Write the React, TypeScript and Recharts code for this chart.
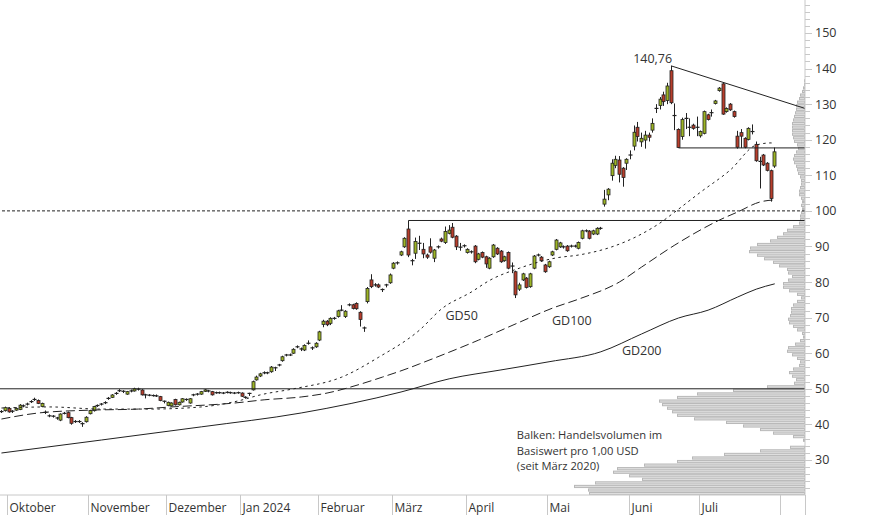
import React from 'react';
import { ComposedChart, Bar, Line, XAxis, YAxis, ReferenceLine, ReferenceDot } from 'recharts';

// Tageskerzen [Eröffnung, Hoch, Tief, Schluss], eine pro Handelstag
const sepCandles = [
  [43.5, 44.0, 43.2, 43.6], [43.85, 45.0, 43.6, 44.7],
];
const octCandles = [
  [44.5, 44.8, 43.3, 43.5], [43.7, 44.0, 43.2, 43.6], [44.0, 44.8, 43.8, 44.5], [44.2, 45.7, 44.0, 45.4],
  [45.1, 45.6, 44.8, 45.2], [45.6, 46.1, 45.3, 45.7], [46.3, 46.8, 46.0, 46.4], [46.9, 47.5, 46.6, 47.0],
  [46.7, 47.0, 45.7, 45.9], [45.0, 46.1, 44.8, 45.9], [43.4, 43.9, 42.9, 43.2], [42.4, 42.8, 42.0, 42.35],
  [42.3, 42.6, 41.9, 42.2], [41.8, 42.1, 41.3, 41.7], [41.2, 43.1, 40.9, 42.9], [43.0, 43.5, 42.8, 43.1],
  [43.3, 43.6, 41.7, 41.9], [41.9, 42.1, 39.9, 40.3], [40.8, 41.2, 40.4, 40.75], [40.7, 41.2, 40.4, 40.8],
  [40.2, 40.6, 39.3, 40.1], [40.75, 42.3, 40.5, 42.0],
];
const novCandles = [
  [43.0, 44.1, 42.8, 43.9], [43.85, 45.2, 43.6, 45.0], [45.2, 45.6, 44.9, 45.3], [45.6, 46.0, 45.3, 45.7],
  [46.0, 46.5, 45.7, 46.1], [47.2, 47.7, 46.9, 47.3], [47.6, 48.5, 47.4, 48.26], [48.6, 49.1, 48.3, 48.7],
  [49.4, 49.9, 49.1, 49.46], [49.3, 49.6, 48.8, 49.2], [48.5, 49.4, 48.3, 49.2], [49.3, 49.8, 49.0, 49.4],
  [49.4, 50.3, 49.2, 50.0], [49.9, 50.3, 49.5, 49.86], [49.66, 49.9, 48.1, 48.3], [48.3, 48.6, 47.3, 48.26],
  [48.2, 48.5, 47.9, 48.2], [48.1, 48.4, 47.8, 48.1], [48.0, 48.4, 47.7, 48.0], [47.8, 48.0, 46.5, 46.7],
  [46.5, 46.7, 45.9, 46.2],
];
const decCandles = [
  [45.3, 46.4, 45.1, 46.2], [45.2, 46.2, 45.0, 46.0], [47.0, 47.2, 45.3, 45.5], [45.5, 46.4, 45.3, 46.2],
  [46.3, 47.4, 46.1, 47.2], [46.9, 47.3, 46.6, 47.0], [46.0, 47.4, 45.8, 47.2], [48.2, 48.6, 47.9, 48.3],
  [48.4, 48.8, 48.1, 48.5], [48.5, 49.4, 48.3, 49.2], [49.3, 49.9, 49.1, 49.7], [49.4, 49.7, 49.0, 49.3],
  [49.2, 49.4, 48.1, 48.3], [48.8, 49.2, 48.6, 48.9], [48.9, 49.2, 48.6, 48.9], [48.8, 49.1, 48.5, 48.8],
  [49.0, 49.3, 48.7, 49.0], [48.9, 49.2, 48.6, 48.9], [48.8, 49.1, 48.5, 48.8], [48.9, 49.2, 48.6, 48.9],
];
const janCandles = [
  [48.8, 49.0, 47.7, 47.9], [47.6, 47.9, 47.2, 47.5], [48.6, 48.9, 48.0, 48.7], [49.7, 52.3, 49.5, 52.0],
  [52.5, 53.7, 52.3, 53.3], [53.6, 54.5, 53.3, 54.2], [54.4, 54.9, 54.1, 54.5], [54.5, 54.8, 54.1, 54.4],
  [54.8, 56.4, 54.5, 56.1], [55.9, 56.2, 55.0, 55.8], [56.6, 57.0, 56.3, 56.7], [57.9, 59.3, 57.6, 59.0],
  [59.4, 59.8, 59.1, 59.5], [59.5, 59.9, 59.2, 59.5], [60.0, 61.4, 59.8, 61.1], [61.7, 62.2, 61.4, 61.8],
  [61.2, 61.6, 60.6, 61.1], [60.9, 62.5, 60.6, 62.2], [62.7, 63.6, 62.4, 62.8], [61.5, 61.9, 60.9, 61.4],
  [61.8, 63.1, 61.5, 62.8],
];
const febCandles = [
  [63.7, 66.3, 63.4, 66.0], [68.1, 69.4, 67.3, 69.0], [69.0, 69.3, 67.6, 68.0], [68.4, 70.1, 67.9, 69.8],
  [69.7, 70.2, 69.4, 69.8], [70.3, 72.2, 70.0, 71.9], [72.0, 73.5, 71.8, 72.1], [70.3, 72.1, 69.9, 71.8],
  [73.5, 74.0, 73.2, 73.6], [73.6, 73.9, 72.3, 72.6], [74.0, 74.3, 72.2, 72.5], [71.5, 71.8, 67.5, 69.5],
  [67.1, 67.5, 66.0, 67.0], [74.5, 78.6, 74.0, 78.2], [80.6, 82.2, 78.3, 78.7], [79.1, 79.7, 78.7, 79.2],
  [79.2, 79.6, 78.3, 78.6], [77.9, 78.2, 77.2, 77.8], [79.1, 79.5, 78.5, 79.2], [79.8, 82.4, 79.5, 82.0],
];
const marCandles = [
  [83.9, 85.6, 83.6, 85.3], [85.3, 85.8, 84.9, 85.4], [87.6, 88.8, 87.3, 88.5], [89.9, 92.6, 89.6, 92.3],
  [94.9, 97.3, 87.0, 87.6], [86.0, 86.5, 84.7, 85.9], [88.1, 92.5, 86.5, 91.4], [90.8, 93.0, 89.0, 90.9],
  [89.2, 91.0, 86.7, 87.9], [87.6, 88.0, 86.5, 87.0], [89.9, 92.3, 88.0, 88.4], [86.7, 89.3, 85.6, 89.0],
  [89.8, 90.3, 89.4, 89.9], [92.1, 92.5, 91.2, 91.5], [91.1, 95.6, 90.7, 94.2], [93.7, 96.0, 93.4, 94.6],
  [95.4, 96.6, 92.3, 92.6], [92.9, 93.2, 89.0, 89.9], [89.7, 91.0, 88.8, 89.8], [90.1, 90.6, 89.7, 90.2],
];
const aprCandles = [
  [88.3, 89.5, 88.0, 89.2], [88.4, 88.9, 88.0, 88.5], [90.1, 90.4, 85.3, 85.7], [86.4, 88.2, 86.1, 87.9],
  [88.3, 88.6, 86.7, 87.0], [87.1, 87.4, 84.0, 85.1], [83.9, 87.0, 83.6, 86.7], [87.1, 90.7, 86.8, 90.4],
  [89.5, 89.8, 87.6, 87.9], [88.7, 89.0, 85.4, 85.7], [86.0, 87.4, 85.7, 87.1], [88.3, 88.6, 83.6, 83.9],
  [84.5, 85.5, 82.5, 84.4], [82.9, 83.2, 75.5, 76.4], [78.0, 79.8, 77.5, 79.2], [80.6, 82.6, 80.3, 82.3],
  [81.1, 81.4, 78.2, 78.5], [78.7, 82.6, 78.4, 82.3], [83.9, 87.6, 83.6, 87.3], [87.5, 88.0, 87.2, 87.6],
  [87.0, 87.3, 85.7, 86.0], [84.8, 85.1, 82.6, 82.9],
];
const mayCandles = [
  [84.3, 86.0, 84.0, 85.7], [87.6, 88.8, 87.3, 88.5], [89.2, 92.1, 88.9, 91.8], [89.9, 91.3, 89.6, 91.0],
  [89.8, 90.3, 89.4, 89.9], [90.1, 90.4, 88.5, 88.8], [90.0, 90.5, 89.7, 90.1], [90.0, 90.5, 89.7, 90.1],
  [89.5, 91.4, 89.2, 91.1], [92.3, 94.7, 92.0, 94.4], [94.3, 94.8, 94.0, 94.4], [94.3, 94.6, 92.0, 92.3],
  [93.5, 94.7, 93.2, 94.4], [93.5, 95.4, 93.2, 95.1], [95.0, 95.5, 94.7, 95.1], [101.9, 105.9, 101.2, 103.3],
  [104.5, 106.4, 103.0, 106.1], [109.9, 114.5, 108.5, 113.4], [112.8, 115.5, 112.0, 114.5], [114.3, 115.4, 108.0, 110.3],
  [112.0, 112.3, 106.8, 109.4], [113.4, 114.8, 111.5, 114.5],
];
const junCandles = [
  [115.6, 117.0, 114.5, 115.7], [118.2, 124.0, 117.0, 122.1], [123.5, 125.0, 119.5, 120.9], [119.4, 122.0, 118.0, 120.4],
  [119.9, 122.5, 117.5, 121.3], [121.3, 122.0, 119.5, 120.7], [122.7, 126.0, 122.0, 124.6], [128.7, 130.0, 127.5, 128.8],
  [129.6, 132.0, 128.5, 131.4], [132.6, 133.5, 129.5, 130.7], [131.0, 136.0, 130.0, 135.1], [139.4, 140.76, 130.0, 130.4],
  [126.8, 130.2, 122.7, 126.5], [122.9, 123.2, 117.7, 117.8], [120.9, 126.2, 120.0, 125.7], [125.9, 127.5, 123.0, 126.0],
  [123.4, 126.0, 121.0, 123.5], [124.1, 124.5, 122.8, 123.2], [123.4, 126.5, 121.0, 123.5],
];
const julCandles = [
  [121.1, 122.6, 120.6, 122.3], [121.8, 128.2, 121.5, 127.9], [127.0, 127.3, 125.4, 125.7], [127.5, 128.5, 126.5, 127.6],
  [130.2, 131.2, 129.9, 130.9], [133.8, 134.8, 133.5, 134.5], [135.7, 135.9, 127.0, 127.2], [127.9, 129.1, 127.6, 128.8],
  [130.0, 130.3, 128.1, 128.4], [127.9, 128.2, 126.2, 126.5], [121.0, 122.5, 117.5, 117.9], [122.0, 123.0, 117.7, 121.0],
  [120.4, 120.7, 117.6, 117.9], [120.1, 123.5, 119.8, 123.2], [122.2, 124.3, 121.5, 122.3], [118.7, 119.5, 113.8, 114.1],
  [113.9, 115.2, 106.3, 113.8], [115.7, 116.0, 112.6, 112.9], [113.4, 113.7, 111.1, 111.4], [111.3, 111.6, 102.6, 103.5],
  [112.6, 117.8, 112.1, 116.6],
];
const firstDay = -2; // Index 0 = erster Handelstag im Oktober

// gleitende Durchschnitte: [Handelstag, Kurs]
const gd50Points = [
  [-2, 44.6], [11, 44.9], [25, 44.3], [38, 44.3], [52, 44.9], [62, 46.6], [68, 48.3], [77, 50.0],
  [90, 53.3], [100, 58.9], [111, 66.5], [117, 72.5], [125, 77.2], [130, 80.5], [138, 83.9],
  [148, 86.8], [154, 87.6], [163, 89.9], [171, 93.5], [176, 96.6], [180, 99.7], [187, 105.3],
  [195, 111.5], [202, 118.5], [206, 119.1], [207, 118.8],
];
const gd100Points = [
  [-2, 41.5], [8, 43.2], [22, 44.0], [35, 44.3], [44, 44.9], [61, 46.0], [69, 46.9], [79, 47.7],
  [86, 48.8], [95, 51.3], [101, 53.3], [108, 55.8], [111, 57.0], [127, 63.7], [138, 68.7],
  [147, 72.7], [154, 75.2], [165, 80.0], [171, 84.2], [180, 90.4], [186, 94.1], [192, 97.4],
  [197, 99.7], [203, 102.5], [207, 103.1],
];
const gd200Points = [
  [-2, 31.95], [25, 35.6], [52, 39.3], [79, 43.2], [106, 49.1], [119, 52.8], [133, 55.3],
  [146, 57.6], [160, 60.4], [171, 65.4], [181, 69.9], [189, 72.1], [197, 75.8], [202, 78.0], [207, 79.5],
];

// Volumenprofil: Breite je 1-USD-Stufe ab 20 USD
const volumeFirstLevel = 20;
const volumeProfile = [
  216, 217, 231, 210, 163, 176, 192, 188, 161, 128,
  113, 81, 45, 15, 0, 2, 12, 32, 45, 62,
  79, 111, 128, 133, 138, 143, 146, 128, 108, 72,
  38, 11, 9, 13, 16, 12, 6, 5, 8, 13,
  18, 17, 10, 5, 2, 3, 8, 12, 16, 17,
  15, 14, 14, 12, 8, 4, 8, 16, 22, 22,
  17, 13, 17, 18, 26, 32, 41, 48, 56, 55,
  48, 35, 28, 22, 18, 12, 6, 5, 5, 4,
  3, 4, 3, 4, 6, 6, 5, 4, 4, 5,
  7, 8, 9, 11, 12, 11, 9, 7, 8, 11,
  12, 13, 13, 13, 13, 12, 11, 10, 9, 9,
  8, 6, 5, 3, 2, 1, 1,
];

const monthTicks = [-0.5, 21.5, 42.5, 62.5, 83.5, 103.5, 123.5, 145.5, 167.5, 186.5, 208.5, 215.18];
const monthLabels = ['Oktober', 'November', 'Dezember', 'Jan 2024', 'Februar', 'März', 'April', 'Mai', 'Juni', 'Juli', '', ''];
const priceTicks = [
  22, 24, 26, 28, 30, 32, 34, 36, 38, 40, 42, 44, 46, 48, 50, 52, 54, 56, 58, 60, 62, 64, 66, 68, 70,
  72, 74, 76, 78, 80, 82, 84, 86, 88, 90, 92, 94, 96, 98, 100, 102, 104, 106, 108, 110, 112, 114, 116,
  118, 120, 122, 124, 126, 128, 130, 132, 134, 136, 138, 140, 142, 144, 146, 148, 150, 152, 154, 156, 158,
];

const peakLabel = '140,76';
const noteLines = ['Balken: Handelsvolumen im', 'Basiswert pro 1,00 USD', '(seit März 2020)'];
const noteLevels = [35.75, 31.4, 27.05];

const W = 874;
const H = 515;
const AXIS_W = 69;
const AXIS_H = 20;
const PLOT_R = W - AXIS_W;
const PLOT_B = H - AXIS_H;
const X_DOMAIN = [-2.392, 215.18];
const Y_DOMAIN = [20.15, 159.27];
const FONT = "'Open Sans', sans-serif";
const INK = '#222';
const UP = '#9db526';
const DOWN = '#b83e2c';

const allCandles = [
  ...sepCandles, ...octCandles, ...novCandles, ...decCandles, ...janCandles, ...febCandles,
  ...marCandles, ...aprCandles, ...mayCandles, ...junCandles, ...julCandles,
];

const rows: any[] = allCandles.map(([o, h, l, c], k) => ({ t: firstDay + k, o, h, l, c, range: [l, h] }));
const attach = (pts: number[][], key: string) =>
  pts.forEach(([t, v]) => {
    const r = rows[t - firstDay];
    if (r) r[key] = v;
  });
attach(gd50Points, 'gd50');
attach(gd100Points, 'gd100');
attach(gd200Points, 'gd200');

const volumeRows = volumeProfile.map((v, k) => ({ price: volumeFirstLevel + k + 0.5, vol: v }));

function Candle(props: any) {
  const { x, y, width, height, payload } = props;
  if (!payload || y == null) return null;
  const { o, h, l, c } = payload;
  const top = Math.min(y, y + height);
  const span = Math.abs(height);
  const py = (v: number) => (h === l ? top : top + ((h - v) / (h - l)) * span);
  const cx = Math.round(x + width / 2) + 0.5;
  const yo = py(o);
  const yc = py(c);
  const bodyTop = Math.min(yo, yc);
  const bodyH = Math.abs(yc - yo);
  return (
    <g>
      <line x1={cx} y1={top} x2={cx} y2={top + span} stroke={INK} strokeWidth={1} />
      {bodyH < 1.3 ? (
        <line x1={cx - 2} y1={bodyTop} x2={cx + 2} y2={bodyTop} stroke={INK} strokeWidth={1.2} />
      ) : (
        <rect x={cx - 1.5} y={bodyTop} width={3} height={bodyH} fill={c >= o ? UP : DOWN} stroke={INK} strokeWidth={0.8} />
      )}
    </g>
  );
}

function VolumeBar(props: any) {
  const { x, y, width, height } = props;
  if (!width) return null;
  const left = Math.min(x, x + width);
  const w = Math.abs(width);
  const top = Math.min(y, y + height);
  const h = Math.abs(height);
  return (
    <rect x={left + 0.5} y={top + 0.5} width={Math.max(w - 1, 0.5)} height={Math.max(h - 1, 0.5)}
      fill="#dedede" stroke="#b8b8b8" strokeWidth={1} />
  );
}

function MonthTick(props: any) {
  const { x, payload } = props;
  const label = monthLabels[monthTicks.indexOf(payload.value)] || '';
  const lx = Math.round(x) + 0.5;
  return (
    <g>
      <line x1={lx} y1={PLOT_B} x2={lx} y2={H} stroke="#c8c8c8" />
      {label && (
        <text x={lx + 2} y={PLOT_B + 17} fontSize={12} fill="#333" fontFamily={FONT}>
          {label}
        </text>
      )}
    </g>
  );
}

function PriceTick(props: any) {
  const { y, payload } = props;
  const v = payload.value;
  const major = v % 10 === 0;
  const ly = Math.round(y) + 0.5;
  return (
    <g>
      <line x1={PLOT_R} y1={ly} x2={PLOT_R + (major ? 7 : 5)} y2={ly} stroke="#c8c8c8" />
      {major && (
        <text x={PLOT_R + 10} y={y} dy="0.36em" fontSize={12.5} fill="#333" fontFamily={FONT}>
          {v}
        </text>
      )}
    </g>
  );
}

const textLabel = (txt: string, anchor: 'start' | 'end', dx = 0, dy = 0, size = 12.5) => (p: any) => (
  <text x={p.cx + dx} y={p.cy + dy} textAnchor={anchor} fontSize={size} fill="#333" fontFamily={FONT}>
    {txt}
  </text>
);

export default function App() {
  return (
    <div style={{ position: 'absolute', left: 0, top: 0, width: W, height: H, background: '#fff' }}>
      <div style={{ position: 'absolute', left: 0, top: 0 }}>
        <ComposedChart layout="vertical" width={W} height={H} data={volumeRows}
          margin={{ top: 0, right: AXIS_W, bottom: AXIS_H, left: 0 }}>
          <XAxis type="number" hide domain={[0, PLOT_R]} reversed allowDataOverflow />
          <YAxis type="number" hide dataKey="price" domain={Y_DOMAIN} reversed allowDataOverflow />
          <Bar dataKey="vol" shape={VolumeBar} barSize={3.56} isAnimationActive={false} />
        </ComposedChart>
      </div>
      <div style={{ position: 'absolute', left: 0, top: 0 }}>
        <ComposedChart width={W} height={H} data={rows} margin={{ top: 0, right: 0, bottom: 0, left: 0 }}>
          <XAxis dataKey="t" type="number" domain={X_DOMAIN} allowDataOverflow ticks={monthTicks} interval={0}
            height={AXIS_H} tick={MonthTick} tickLine={false} axisLine={{ stroke: '#c8c8c8' }} />
          <YAxis orientation="right" type="number" domain={Y_DOMAIN} allowDataOverflow ticks={priceTicks}
            interval={0} width={AXIS_W} tick={PriceTick} tickLine={false} axisLine={{ stroke: '#c8c8c8' }} />

          <ReferenceLine y={50} stroke={INK} strokeWidth={1} />
          <ReferenceLine y={100} stroke={INK} strokeWidth={1} strokeDasharray="3 2" />
          <ReferenceLine segment={[{ x: 108, y: 97.3 }, { x: 215.18, y: 97.3 }]} stroke={INK} ifOverflow="visible" />
          <ReferenceLine segment={[{ x: 181, y: 117.7 }, { x: 215.18, y: 117.7 }]} stroke={INK} ifOverflow="visible" />
          <ReferenceLine segment={[{ x: 179, y: 140.76 }, { x: 215.18, y: 128.8 }]} stroke={INK} ifOverflow="visible" />

          <Line dataKey="gd200" type="monotone" stroke={INK} strokeWidth={1} dot={false} activeDot={false}
            connectNulls isAnimationActive={false} />
          <Line dataKey="gd100" type="monotone" stroke={INK} strokeWidth={1} strokeDasharray="9 4" dot={false}
            activeDot={false} connectNulls isAnimationActive={false} />
          <Line dataKey="gd50" type="monotone" stroke={INK} strokeWidth={1} strokeDasharray="2.5 3.5" dot={false}
            activeDot={false} connectNulls isAnimationActive={false} />

          <Bar dataKey="range" shape={Candle} barSize={3} isAnimationActive={false} />

          <ReferenceDot x={179} y={140.76} r={0} ifOverflow="visible" shape={textLabel(peakLabel, 'end', 1, -3)} />
          <ReferenceDot x={118} y={69.3} r={0} ifOverflow="visible" shape={textLabel('GD50', 'start')} />
          <ReferenceDot x={146.8} y={67.9} r={0} ifOverflow="visible" shape={textLabel('GD100', 'start')} />
          <ReferenceDot x={165.7} y={59.5} r={0} ifOverflow="visible" shape={textLabel('GD200', 'start')} />
          {noteLines.map((line, k) => (
            <ReferenceDot key={k} x={137.3} y={noteLevels[k]} r={0} ifOverflow="visible"
              shape={textLabel(line, 'start', 0, 0, 11.2)} />
          ))}
        </ComposedChart>
      </div>
    </div>
  );
}
